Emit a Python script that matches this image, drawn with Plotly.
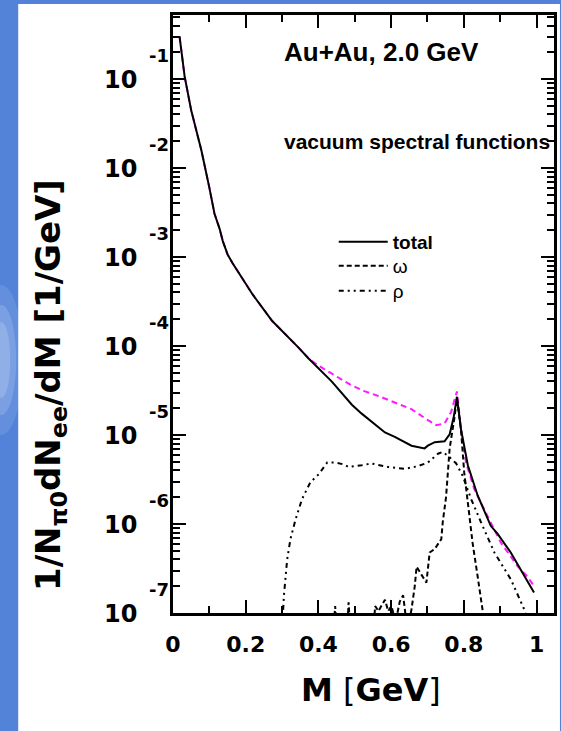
import math
import plotly.graph_objects as go

# ---------------- data ----------------
mass_total = [0.018, 0.032, 0.050, 0.078, 0.100, 0.114, 0.128, 0.137, 0.150, 0.164,
              0.219, 0.273, 0.346, 0.373, 0.437, 0.492, 0.519, 0.583, 0.610, 0.656, 0.692,
              0.701, 0.720, 0.747, 0.761, 0.772, 0.781, 0.792, 0.811, 0.838, 0.874, 0.893,
              0.929, 0.956, 0.993]
yield_total = [3.02e-1, 1.07e-1, 4.47e-2, 1.585e-2, 6.03e-3, 3.09e-3, 2.09e-3, 1.51e-3, 1.07e-3,
               8.51e-4, 3.80e-4, 1.91e-4, 9.55e-5, 7.24e-5, 3.98e-5, 2.19e-5, 1.74e-5,
               1.07e-5, 9.55e-6, 7.59e-6, 7.08e-6, 7.59e-6, 8.32e-6, 8.51e-6, 1.02e-5, 1.58e-5,
               2.69e-5, 1.17e-5, 4.57e-6, 2.09e-6, 9.55e-7, 7.76e-7, 4.79e-7, 3.09e-7, 1.70e-7]

mass_magenta = [0.018, 0.032, 0.050, 0.078, 0.100, 0.114, 0.128, 0.137, 0.150, 0.164,
                0.219, 0.273, 0.346, 0.373, 0.400, 0.455, 0.490, 0.528, 0.565, 0.619, 0.656,
                0.700, 0.724, 0.747, 0.765, 0.781, 0.792, 0.806, 0.829, 0.865, 0.902, 0.947,
                0.975, 0.993]
yield_magenta = [3.02e-1, 1.07e-1, 4.47e-2, 1.585e-2, 6.03e-3, 3.09e-3, 2.09e-3, 1.51e-3, 1.07e-3,
                 8.51e-4, 3.80e-4, 1.91e-4, 9.55e-5, 7.24e-5, 6.03e-5, 4.37e-5, 3.63e-5,
                 3.09e-5, 2.75e-5, 2.24e-5, 1.95e-5, 1.48e-5, 1.29e-5, 1.35e-5, 1.82e-5, 3.09e-5,
                 1.17e-5, 4.90e-6, 2.45e-6, 1.23e-6, 6.17e-7, 3.39e-7, 2.57e-7, 2.00e-7]

mass_omega = [0.440, 0.446, 0.452, 0.478, 0.483, 0.489, 0.550, 0.556, 0.565, 0.583, 0.592,
              0.601, 0.612, 0.624, 0.633, 0.638, 0.645, 0.656, 0.665, 0.670, 0.683, 0.697,
              0.706, 0.720, 0.738, 0.742, 0.751, 0.761, 0.774, 0.781, 0.792, 0.801, 0.811,
              0.824, 0.838, 0.852, 0.860]
yield_omega = [5.0e-8, 1.20e-7, 5.0e-8, 5.0e-8, 1.32e-7, 5.0e-8, 5.0e-8, 1.20e-7, 1.05e-7,
               1.41e-7, 1.05e-7, 1.20e-7, 7.9e-8, 1.35e-7, 1.58e-7, 1.12e-7, 6.3e-8, 1.10e-7,
               2.00e-7, 3.31e-7, 2.69e-7, 2.19e-7, 4.79e-7, 5.25e-7, 6.76e-7, 1.05e-6, 2.00e-6,
               7.08e-6, 1.55e-5, 2.57e-5, 1.17e-5, 3.80e-6, 1.74e-6, 6.17e-7, 2.57e-7, 1.10e-7,
               6.3e-8]

mass_rho = [0.300, 0.305, 0.314, 0.323, 0.337, 0.355, 0.378, 0.401, 0.424, 0.446, 0.469,
            0.483, 0.519, 0.546, 0.592, 0.638, 0.674, 0.701, 0.729, 0.742, 0.761, 0.779,
            0.797, 0.820, 0.847, 0.884, 0.929, 0.966, 0.980]
yield_rho = [6.31e-8, 1.55e-7, 3.98e-7, 6.76e-7, 1.12e-6, 1.91e-6, 2.95e-6, 3.63e-6, 4.90e-6,
             4.90e-6, 4.68e-6, 4.37e-6, 4.57e-6, 4.79e-6, 4.37e-6, 4.17e-6, 4.47e-6, 4.90e-6,
             6.17e-6, 6.46e-6, 5.62e-6, 4.79e-6, 3.47e-6, 1.91e-6, 1.05e-6, 4.79e-7, 2.40e-7,
             1.10e-7, 7.08e-8]

x_tick_values = [0, 0.2, 0.4, 0.6, 0.8, 1.0]
x_tick_labels = ["0", "0.2", "0.4", "0.6", "0.8", "1"]
y_tick_values = [1e-1, 1e-2, 1e-3, 1e-4, 1e-5, 1e-6, 1e-7]
y_tick_exponents = ["-1", "-2", "-3", "-4", "-5", "-6", "-7"]

# ---------------- layout constants ----------------
W, H = 561, 731
L, R, T, B = 173, 4, 15, 118
PW, PH = W - L - R, H - T - B
BLUE = "#5283d9"
TICKFONT = "DejaVu Sans, Liberation Sans, Arial"
TEXTFONT = "Liberation Sans, Arial, Helvetica"


def px_x(px):
    return (px - L) / PW


def px_y(py):
    return (H - B - py) / PH


fig = go.Figure()

fig.add_trace(go.Scatter(x=mass_magenta, y=yield_magenta, mode="lines", showlegend=False,
                         line=dict(color="#ff1aff", width=2, dash="6px,4px")))
fig.add_trace(go.Scatter(x=mass_total, y=yield_total, mode="lines", name="<b>total</b>",
                         legend="legend", line=dict(color="black", width=2)))
fig.add_trace(go.Scatter(x=mass_omega, y=yield_omega, mode="lines", name="ω",
                         legend="legend2", line=dict(color="black", width=2, dash="5px,3px")))
fig.add_trace(go.Scatter(x=mass_rho, y=yield_rho, mode="lines", name="ρ",
                         legend="legend3",
                         line=dict(color="black", width=2, dash="5px,4px,2px,4px,2px,4px")))

minor_vals = []
for e in range(-8, 0):
    for k in range(2, 10):
        minor_vals.append(k * 10.0 ** e)

fig.update_xaxes(range=[0, 1.048], tickvals=x_tick_values, ticktext=x_tick_labels,
                 ticks="inside", ticklen=13, tickwidth=1.5, tickcolor="black",
                 minor=dict(dtick=0.1, tick0=0, ticks="inside", ticklen=7, tickwidth=1.5,
                            tickcolor="black", showgrid=False),
                 mirror="allticks", showline=True, linewidth=3, linecolor="black",
                 showgrid=False, zeroline=False,
                 tickfont=dict(family=TICKFONT, size=22, color="black", weight="bold"),
                 ticklabelstandoff=10)
fig.update_yaxes(type="log", range=[-7.0, -0.28], tickvals=y_tick_values, showticklabels=False,
                 ticks="inside", ticklen=13, tickwidth=1.5, tickcolor="black",
                 minor=dict(tickvals=minor_vals, ticks="inside", ticklen=7, tickwidth=1.5,
                            tickcolor="black", showgrid=False),
                 mirror="allticks", showline=True, linewidth=3, linecolor="black",
                 showgrid=False, zeroline=False)

annotations = []
for v, ex in zip(y_tick_values, y_tick_exponents):
    annotations.append(dict(x=0, y=math.log10(v), xref="paper", yref="y", text="<b>10</b>",
                            showarrow=False, xanchor="right", yanchor="middle",
                            xshift=-34, yshift=-1,
                            font=dict(family=TICKFONT, size=24, color="black")))
    annotations.append(dict(x=0, y=math.log10(v), xref="paper", yref="y", text="<b>" + ex + "</b>",
                            showarrow=False, xanchor="left", yanchor="middle",
                            xshift=-26, yshift=24,
                            font=dict(family=TICKFONT, size=18, color="black")))

annotations += [
    dict(x=px_x(283), y=px_y(52), xref="paper", yref="paper", text="<b>Au+Au, 2.0 GeV</b>",
         showarrow=False, xanchor="left", yanchor="middle",
         font=dict(family=TEXTFONT, size=26, color="black")),
    dict(x=px_x(283), y=px_y(141), xref="paper", yref="paper", text="<b>vacuum spectral functions</b>",
         showarrow=False, xanchor="left", yanchor="middle",
         font=dict(family=TEXTFONT, size=21, color="black")),
    dict(x=px_x(373), y=px_y(690), xref="paper", yref="paper", text="<b>M</b> [<b>GeV</b>]",
         showarrow=False, xanchor="center", yanchor="middle",
         font=dict(family=TICKFONT, size=32, color="black")),
    dict(x=px_x(49), y=px_y(385), xref="paper", yref="paper",
         text="<b>1/N<sub>π0</sub>dN<sub>ee</sub>/dM [1/GeV]</b>", textangle=-90,
         showarrow=False, xanchor="center", yanchor="middle",
         font=dict(family=TICKFONT, size=34, color="black")),
]

shapes = []
# soft light glow on the blue slide border
for rx, ry, op in [(22, 75, 0.12), (15, 55, 0.18), (9, 38, 0.22)]:
    shapes.append(dict(type="circle", xref="paper", yref="paper", layer="below",
                       x0=px_x(-rx), x1=px_x(rx), y0=px_y(360 + ry), y1=px_y(360 - ry),
                       fillcolor="rgba(225,232,252,%.2f)" % op, line=dict(width=0)))
shapes.append(dict(type="rect", xref="paper", yref="paper", layer="below",
                   x0=px_x(17), x1=px_x(W + 2), y0=px_y(H + 2), y1=px_y(4),
                   fillcolor="white", line=dict(width=0)))

legend_common = dict(xanchor="left", yanchor="middle", bgcolor="rgba(0,0,0,0)",
                     borderwidth=0, itemwidth=49,
                     font=dict(family=TEXTFONT, size=19, color="black"))

fig.update_layout(
    width=W, height=H, autosize=False,
    margin=dict(l=L, r=R, t=T, b=B, pad=0),
    paper_bgcolor=BLUE, plot_bgcolor="white",
    annotations=annotations, shapes=shapes,
    legend=dict(x=px_x(335), y=px_y(242), **legend_common),
    legend2=dict(x=px_x(335), y=px_y(266), **legend_common),
    legend3=dict(x=px_x(335), y=px_y(291), **legend_common),
    showlegend=True,
)

fig.write_html("out.html")
